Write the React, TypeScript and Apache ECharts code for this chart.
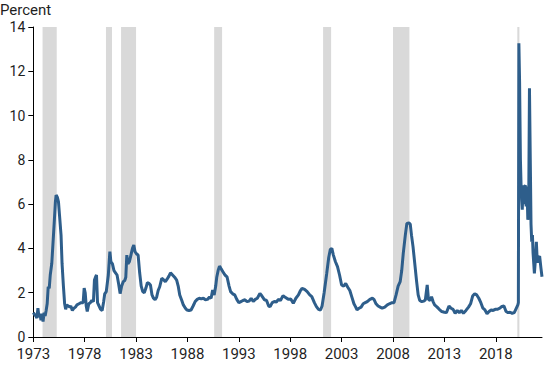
import React, { useEffect, useRef } from "react";
import * as echarts from "echarts";

const yearTicks = [1973, 1978, 1983, 1988, 1993, 1998, 2003, 2008, 2013, 2018];

const recessions: [number, number][] = [
  [1973.9, 1975.28],
  [1980.07, 1980.66],
  [1981.54, 1983.0],
  [1990.6, 1991.37],
  [2001.2, 2001.98],
  [2008.0, 2009.6],
  [2020.1, 2020.3],
];

const dates = [
  1973.0, 1973.15, 1973.25, 1973.35, 1973.45, 1973.55, 1973.65, 1973.75, 1973.85, 1973.95,
  1974.05, 1974.15, 1974.25, 1974.35, 1974.45, 1974.55, 1974.65, 1974.8, 1974.95, 1975.05,
  1975.15, 1975.22, 1975.35, 1975.45, 1975.55, 1975.7, 1975.8, 1975.93, 1976.05, 1976.15,
  1976.25, 1976.4, 1976.55, 1976.65, 1976.8, 1976.95, 1977.1, 1977.25, 1977.45, 1977.65,
  1977.85, 1977.95, 1978.05, 1978.15, 1978.25, 1978.4, 1978.55, 1978.7, 1978.85, 1978.95,
  1979.05, 1979.15, 1979.25, 1979.4, 1979.55, 1979.7, 1979.85, 1979.95, 1980.1, 1980.3,
  1980.45, 1980.55, 1980.7, 1980.85, 1981.0, 1981.15, 1981.3, 1981.45, 1981.6, 1981.75,
  1981.9, 1982.0, 1982.1, 1982.2, 1982.35, 1982.5, 1982.65, 1982.78, 1982.9, 1983.05,
  1983.2, 1983.35, 1983.5, 1983.65, 1983.8, 1983.95, 1984.1, 1984.25, 1984.4, 1984.55,
  1984.7, 1984.85, 1985.0, 1985.15, 1985.3, 1985.5, 1985.65, 1985.85, 1986.0, 1986.2,
  1986.35, 1986.55, 1986.75, 1986.95, 1987.1, 1987.25, 1987.45, 1987.6, 1987.8, 1987.95,
  1988.15, 1988.35, 1988.55, 1988.75, 1988.95, 1989.15, 1989.35, 1989.55, 1989.75, 1989.95,
  1990.15, 1990.3, 1990.45, 1990.6, 1990.75, 1990.85, 1991.0, 1991.12, 1991.25, 1991.45,
  1991.65, 1991.85, 1992.05, 1992.2, 1992.4, 1992.6, 1992.8, 1993.0, 1993.2, 1993.4,
  1993.6, 1993.8, 1994.0, 1994.2, 1994.4, 1994.6, 1994.8, 1995.05, 1995.25, 1995.5,
  1995.7, 1995.9, 1996.05, 1996.25, 1996.45, 1996.65, 1996.85, 1997.05, 1997.3, 1997.55,
  1997.8, 1998.05, 1998.3, 1998.55, 1998.8, 1999.0, 1999.15, 1999.4, 1999.65, 1999.9,
  2000.1, 2000.35, 2000.55, 2000.75, 2000.95, 2001.1, 2001.3, 2001.55, 2001.75, 2001.9,
  2002.05, 2002.2, 2002.4, 2002.6, 2002.8, 2003.0, 2003.2, 2003.4, 2003.6, 2003.8,
  2004.0, 2004.2, 2004.35, 2004.5, 2004.7, 2004.9, 2005.1, 2005.3, 2005.5, 2005.75,
  2006.0, 2006.15, 2006.35, 2006.55, 2006.75, 2006.95, 2007.2, 2007.45, 2007.65, 2007.9,
  2008.1, 2008.3, 2008.5, 2008.7, 2008.85, 2009.0, 2009.2, 2009.35, 2009.55, 2009.68,
  2009.8, 2009.95, 2010.15, 2010.3, 2010.45, 2010.6, 2010.8, 2011.0, 2011.15, 2011.33,
  2011.45, 2011.6, 2011.75, 2011.9, 2012.05, 2012.3, 2012.5, 2012.75, 2013.0, 2013.2,
  2013.45, 2013.65, 2013.85, 2014.05, 2014.25, 2014.45, 2014.65, 2014.85, 2015.1, 2015.35,
  2015.55, 2015.75, 2015.95, 2016.15, 2016.35, 2016.55, 2016.75, 2016.95, 2017.15, 2017.35,
  2017.55, 2017.75, 2017.95, 2018.15, 2018.4, 2018.6, 2018.8, 2019.0, 2019.2, 2019.4,
  2019.6, 2019.8, 2019.95, 2020.15, 2020.2, 2020.25, 2020.32, 2020.4, 2020.46, 2020.52,
  2020.58, 2020.66, 2020.72, 2020.8, 2020.88, 2020.96, 2021.04, 2021.12, 2021.2, 2021.28,
  2021.36, 2021.43, 2021.5, 2021.57, 2021.63, 2021.7, 2021.76, 2021.86, 2021.95, 2022.02,
  2022.08, 2022.18, 2022.27, 2022.4, 2022.5,
];

const values = [
  1.1, 1.0, 0.95, 0.85, 1.3, 0.9, 1.05, 0.75, 1.05, 0.7,
  1.1, 0.95, 1.2, 1.5, 2.27, 2.2, 2.8, 3.33, 4.5, 5.28,
  6.1, 6.41, 6.3, 6.1, 5.5, 4.6, 3.3, 2.3, 1.5, 1.25,
  1.45, 1.4, 1.35, 1.4, 1.2, 1.3, 1.35, 1.45, 1.5, 1.55,
  1.55, 2.21, 2.0, 1.4, 1.15, 1.5, 1.55, 1.65, 1.6, 2.57,
  2.7, 2.8, 1.55, 1.4, 1.25, 1.2, 1.6, 1.95, 2.05, 2.8,
  3.86, 3.4, 3.3, 3.0, 2.9, 2.8, 2.4, 1.96, 2.3, 2.5,
  2.55, 2.7, 3.7, 3.3, 3.4, 3.7, 4.0, 4.15, 3.85, 3.75,
  3.7, 2.9, 2.3, 2.05, 2.0, 2.2, 2.45, 2.42, 2.35, 1.9,
  1.75, 1.68, 1.8, 2.1, 2.27, 2.65, 2.6, 2.5, 2.6, 2.75,
  2.9, 2.8, 2.7, 2.57, 2.3, 1.9, 1.65, 1.45, 1.3, 1.22,
  1.2, 1.22, 1.4, 1.6, 1.7, 1.75, 1.72, 1.75, 1.68, 1.7,
  1.8, 1.75, 2.12, 1.9, 2.3, 2.7, 3.03, 3.2, 3.1, 2.95,
  2.8, 2.72, 2.3, 2.05, 1.95, 1.9, 1.7, 1.55, 1.6, 1.65,
  1.68, 1.6, 1.62, 1.75, 1.6, 1.7, 1.75, 1.97, 1.85, 1.68,
  1.65, 1.4, 1.37, 1.55, 1.6, 1.58, 1.7, 1.65, 1.87, 1.78,
  1.7, 1.72, 1.52, 1.75, 1.9, 2.1, 2.2, 2.15, 2.05, 1.9,
  1.82, 1.55, 1.37, 1.25, 1.22, 1.4, 2.0, 2.87, 3.6, 3.95,
  4.0, 3.7, 3.4, 3.18, 2.8, 2.35, 2.3, 2.42, 2.25, 2.1,
  1.8, 1.5, 1.37, 1.22, 1.3, 1.35, 1.5, 1.55, 1.6, 1.7,
  1.75, 1.7, 1.5, 1.4, 1.35, 1.3, 1.35, 1.45, 1.5, 1.55,
  1.55, 1.9, 2.3, 2.5, 3.0, 3.78, 4.6, 5.13, 5.15, 5.1,
  4.6, 4.08, 3.18, 2.5, 1.9, 1.65, 1.6, 1.62, 1.68, 2.35,
  1.7, 1.65, 1.82, 1.6, 1.45, 1.35, 1.25, 1.15, 1.12, 1.1,
  1.4, 1.3, 1.25, 1.07, 1.2, 1.1, 1.2, 1.07, 1.2, 1.35,
  1.5, 1.85, 1.95, 1.9, 1.75, 1.55, 1.3, 1.22, 1.05, 1.15,
  1.22, 1.2, 1.25, 1.25, 1.3, 1.38, 1.4, 1.15, 1.1, 1.12,
  1.07, 1.1, 1.25, 1.45, 1.55, 13.27, 11.5, 8.0, 6.9, 6.2,
  5.75, 6.85, 6.0, 6.8, 6.85, 5.9, 6.8, 5.3, 5.5, 11.23,
  8.0, 5.1, 4.3, 4.6, 3.8, 3.3, 2.87, 3.5, 4.3, 3.6,
  3.35, 3.6, 3.65, 3.1, 2.72,
];

const FONT = "Roboto";
const TEXT = "#1f1f1f";

export default function App() {
  const ref = useRef<HTMLDivElement>(null);
  useEffect(() => {
    document.body.style.margin = "0";
    if (!ref.current) return;
    const chart = echarts.init(ref.current, null, { renderer: "svg" });
    const lineData = dates.map((d, i) => [d, values[i]]);
    chart.setOption({
      animation: false,
      backgroundColor: "#ffffff",
      grid: { left: 33.3, right: 8, top: 27, bottom: 28, containLabel: false },
      graphic: [
        {
          type: "text",
          left: 0,
          top: 2,
          style: { text: "Percent", font: `15px ${FONT}`, fill: TEXT },
        },
      ],
      xAxis: {
        type: "value",
        min: 1973,
        max: 2022.5,
        interval: 5,
        splitLine: { show: false },
        axisLine: { show: true, lineStyle: { color: "#000", width: 1 } },
        axisTick: {
          show: true,
          length: 5,
          lineStyle: { color: "#000" },
          customValues: yearTicks,
        },
        axisLabel: {
          color: TEXT,
          fontFamily: FONT,
          fontSize: 15,
          lineHeight: 15,
          margin: 9,
          customValues: yearTicks,
          formatter: (v: number) => String(v),
        },
      },
      yAxis: {
        type: "value",
        min: 0,
        max: 14,
        interval: 2,
        splitLine: { show: false },
        axisLine: { show: true, lineStyle: { color: "#000", width: 1 } },
        axisTick: { show: true, length: 5, lineStyle: { color: "#000" } },
        axisLabel: {
          color: TEXT,
          fontFamily: FONT,
          fontSize: 14,
          lineHeight: 12,
          margin: 8,
        },
      },
      series: [
        {
          type: "line",
          data: lineData,
          showSymbol: false,
          symbol: "none",
          lineStyle: { color: "#2e5e8b", width: 3 },
          markArea: {
            silent: true,
            itemStyle: { color: "#d9d9d9" },
            data: recessions.map(([a, b]) => [{ xAxis: a }, { xAxis: b }]),
          },
        },
      ],
    });
    return () => chart.dispose();
  }, []);
  return (
    <div
      ref={ref}
      style={{ width: 550, height: 365, position: "absolute", left: 0, top: 0 }}
    />
  );
}
